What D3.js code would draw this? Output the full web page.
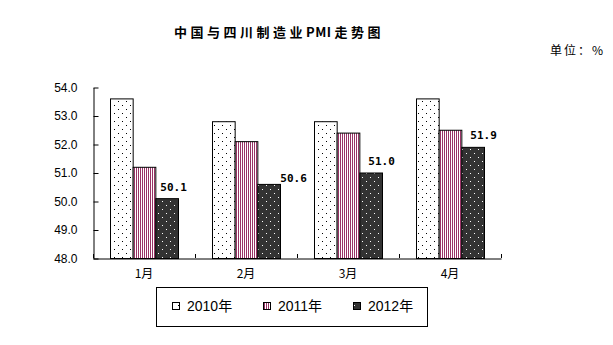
<!DOCTYPE html>
<html><head><meta charset="utf-8">
<script src="https://cdn.jsdelivr.net/npm/d3@7"></script>
<style>body{margin:0;background:#fff}svg{display:block}</style>
</head><body>
<script>
const months = ["1月", "2月", "3月", "4月"];
const seriesNames = ["2010年", "2011年", "2012年"];
const v2010 = [53.6, 52.8, 52.8, 53.6];
const v2011 = [51.2, 52.1, 52.4, 52.5];
const v2012 = [50.1, 50.6, 51.0, 51.9];
const yTicks = [48, 49, 50, 51, 52, 53, 54];
const labelDx = [5, 23, 9, 9];
const labelDy = [-7, -2, -8, -8];

(function () {
const W = 613, H = 345;
const svg = d3.select("body").append("svg").attr("width", W).attr("height", H);
const defs = svg.append("defs");

// patterns
const p0 = defs.append("pattern").attr("id", "p0").attr("patternUnits", "userSpaceOnUse").attr("width", 8).attr("height", 8);
p0.append("rect").attr("width", 8).attr("height", 8).attr("fill", "#fff");
p0.append("rect").attr("x", 2).attr("y", 1).attr("width", 1).attr("height", 1).attr("fill", "#000");
p0.append("rect").attr("x", 6).attr("y", 5).attr("width", 1).attr("height", 1).attr("fill", "#000");
const p1 = defs.append("pattern").attr("id", "p1").attr("patternUnits", "userSpaceOnUse").attr("width", 2).attr("height", 2);
p1.append("rect").attr("width", 2).attr("height", 2).attr("fill", "#fff");
p1.append("rect").attr("width", 1).attr("height", 2).attr("fill", "#993366");
const p2 = defs.append("pattern").attr("id", "p2").attr("patternUnits", "userSpaceOnUse").attr("width", 8).attr("height", 8);
p2.append("rect").attr("width", 8).attr("height", 8).attr("fill", "#333333");
p2.append("rect").attr("x", 2).attr("y", 1).attr("width", 1).attr("height", 1).attr("fill", "#fff");
p2.append("rect").attr("x", 6).attr("y", 5).attr("width", 1).attr("height", 1).attr("fill", "#fff");
const fills = ["url(#p0)", "url(#p1)", "url(#p2)"];

const pl = 93, pr = 501, pt = 87, pb = 258;
const x = d3.scaleBand().domain(months).range([pl, pr]).paddingInner(0).paddingOuter(0);
const x1 = d3.scaleBand().domain(seriesNames).range([17, x.bandwidth() - 17]).padding(0);
const y = d3.scaleLinear().domain([48, 54]).range([pb, pt]);

// title
const t = svg.append("text").attr("x", 279).attr("y", 37).attr("text-anchor", "middle")
  .attr("font-family", "'Noto Sans CJK SC'").attr("font-weight", "bold").attr("font-size", 13);
t.append("tspan").attr("letter-spacing", 3.5).text("中国与四川制造业");
t.append("tspan").attr("letter-spacing", 0.5).text("PMI");
t.append("tspan").attr("letter-spacing", 3.5).attr("dx", 3).text("走势图");
svg.append("text").attr("x", 550).attr("y", 55)
  .attr("font-family", "'Noto Sans CJK SC'").attr("font-size", 12).attr("letter-spacing", 2)
  .text("单位：%");

// bars
const data = [v2010, v2011, v2012];
const g = svg.append("g");
months.forEach((m, i) => {
  seriesNames.forEach((s, j) => {
    const v = data[j][i];
    g.append("rect")
      .attr("x", x(m) + x1(s) + 0.5)
      .attr("y", y(v) + 0.5)
      .attr("width", x1.bandwidth())
      .attr("height", pb - y(v))
      .attr("fill", fills[j]).attr("stroke", "#000").attr("stroke-width", 1);
  });
  const v = v2012[i];
  g.append("text")
    .attr("x", x(m) + x1("2012年") + labelDx[i])
    .attr("y", y(v) + labelDy[i])
    .attr("font-family", "'DejaVu Sans Mono'").attr("font-weight", "bold").attr("font-size", 11)
    .text(d3.format(".1f")(v));
});

// y axis
const yAxis = d3.axisLeft(y).tickValues(yTicks).tickFormat(d3.format(".1f"))
  .tickSizeInner(-5).tickSizeOuter(0).tickPadding(16);
const ya = svg.append("g").attr("transform", `translate(${pl + 0.5},0.5)`).call(yAxis);
ya.selectAll("text").attr("font-family", "'Liberation Sans'").attr("font-size", 12).attr("fill", "#000");
ya.select(".domain").attr("stroke", "#000");
ya.selectAll(".tick line").attr("stroke", "#000");

// x axis
const xa = svg.append("g").attr("transform", `translate(0,${pb + 0.5})`)
  .call(d3.axisBottom(x).tickSize(0).tickPadding(11));
xa.select(".domain").attr("stroke", "#000");
xa.selectAll("text").attr("font-family", "'Noto Sans CJK SC'").attr("font-size", 12).attr("fill", "#000");
const edges = months.map(m => x(m)).concat([pr]);
svg.append("g").selectAll("line").data(edges).join("line")
  .attr("x1", d => d + 0.5).attr("x2", d => d + 0.5)
  .attr("y1", pb).attr("y2", pb - 4).attr("stroke", "#000");

// legend
const lg = svg.append("g");
lg.append("rect").attr("x", 156.5).attr("y", 287.5).attr("width", 271).attr("height", 39)
  .attr("fill", "#fff").attr("stroke", "#000");
const legX = [172, 263, 353];
seriesNames.forEach((s, j) => {
  lg.append("rect").attr("x", legX[j] + 0.5).attr("y", 302.5).attr("width", 7).attr("height", 7)
    .attr("fill", fills[j]).attr("stroke", "#000");
  lg.append("text").attr("x", legX[j] + 15).attr("y", 311)
    .attr("font-family", "'Liberation Sans', 'Noto Sans CJK SC'").attr("font-size", 14).text(s);
});
})();
</script>
</body></html>
